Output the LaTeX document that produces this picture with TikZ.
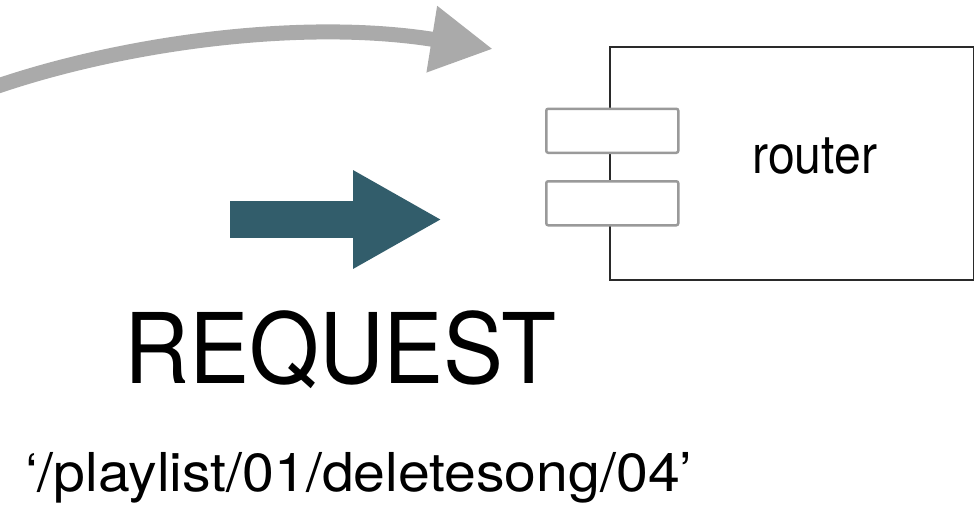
\documentclass[tikz,border=0pt]{standalone}
\usepackage{fontspec}
\setmainfont{TeX Gyre Heros}
\usetikzlibrary{arrows.meta}
\definecolor{reqteal}{HTML}{325D6B}
\definecolor{flowgray}{HTML}{AAAAAA}
\definecolor{boxline}{HTML}{2A2A2A}
\definecolor{portline}{HTML}{9A9A9A}
\begin{document}
\begin{tikzpicture}[x=1pt,y=-1pt,
  flowarrow/.style={draw=flowgray, line width=15pt, -{Triangle[length=62pt,width=63pt]}},
  reqarrow/.style={draw=reqteal, line width=37pt, -{Triangle[length=89pt,width=92pt]}},
  compbox/.style={draw=boxline, line width=1.8pt, minimum width=364pt, minimum height=233pt, inner sep=0pt, anchor=north west},
  portbox/.style={draw=portline, fill=white, line width=2.5pt, rounded corners=2pt, minimum width=132pt, minimum height=44pt, inner sep=0pt, anchor=north west},
  txt/.style={inner sep=0pt, anchor=base west, text=black}]
\useasboundingbox (0,0) rectangle (974,517);
% curved gray arrow
\coordinate (gs) at (-5,87);
\coordinate (ge) at (493,49);
\draw[flowarrow] (gs) .. controls (120,44) and (300,18) .. (ge);
% teal request arrow
\coordinate (ts) at (230,219.5);
\coordinate (te) at (442,219.5);
\draw[reqarrow] (ts) -- (te);
% router component
\node[compbox] (router) at (609,46) {};
\node[portbox] (p1) at (545,107.5) {};
\node[portbox] (p2) at (545,180) {};
\node[txt] (rl) at (752,173) {\scalebox{0.90}[1]{\fontsize{53.5pt}{60pt}\selectfont router}};
% texts
\node[txt] (req) at (124,383) {\scalebox{0.922}[1]{\fontsize{97.5pt}{110pt}\selectfont REQUEST}};
\node[txt] (path) at (25,491) {\scalebox{1.067}[1]{\fontsize{53.6pt}{60pt}\selectfont ‘/playlist/01/deletesong/04’}};
\end{tikzpicture}
\end{document}
